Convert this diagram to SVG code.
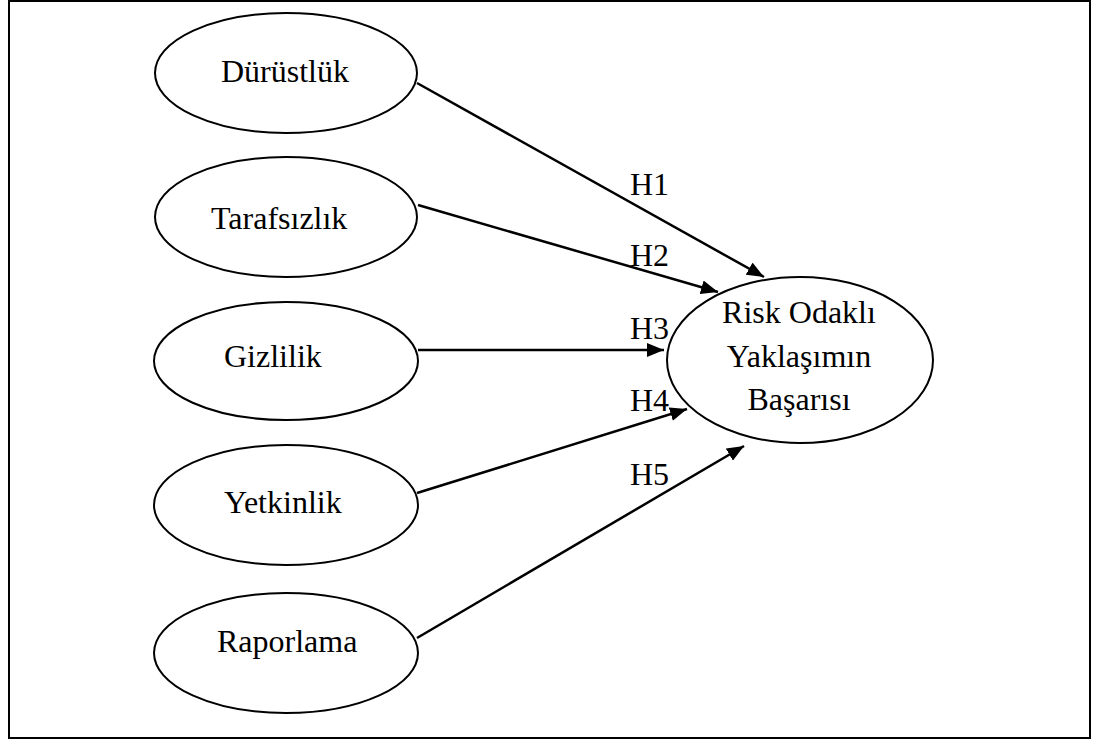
<svg xmlns="http://www.w3.org/2000/svg" width="1101" height="740" viewBox="0 0 1101 740">
<style>
.n{fill:#fff;stroke:#000;stroke-width:2}
.t{font-family:"Liberation Serif","Times New Roman",serif;font-size:32px;fill:#000}
.c{stroke:#000;stroke-width:2.5;fill:none;marker-end:url(#ah)}
</style>
<defs>
<marker id="ah" markerUnits="userSpaceOnUse" markerWidth="18" markerHeight="14" refX="17" refY="7" orient="auto">
<path d="M0,0 L17,7 L0,14 z" fill="#000"/>
</marker>
</defs>
<rect x="0" y="0" width="1101" height="740" fill="#fff"/>
<rect x="9" y="1" width="1081" height="737" fill="none" stroke="#000" stroke-width="2"/>
<g id="connectors">
<line class="c" x1="417" y1="83" x2="764" y2="277"/>
<line class="c" x1="418" y1="205" x2="718" y2="292"/>
<line class="c" x1="418" y1="350" x2="664" y2="350"/>
<line class="c" x1="417" y1="493" x2="687" y2="409"/>
<line class="c" x1="417" y1="638" x2="744" y2="446"/>
<text class="t" x="630" y="195">H1</text>
<text class="t" x="630" y="266">H2</text>
<text class="t" x="630" y="339">H3</text>
<text class="t" x="630" y="411">H4</text>
<text class="t" x="630" y="485">H5</text>
</g>
<g id="durustluk">
<ellipse class="n" cx="286" cy="73" rx="131" ry="60"/>
<text class="t" x="221" y="82">Dürüstlük</text>
</g>
<g id="tarafsizlik">
<ellipse class="n" cx="286" cy="217" rx="131" ry="60"/>
<text class="t" x="211" y="229">Tarafsızlık</text>
</g>
<g id="gizlilik">
<ellipse class="n" cx="286" cy="361" rx="132" ry="59"/>
<text class="t" x="224" y="367">Gizlilik</text>
</g>
<g id="yetkinlik">
<ellipse class="n" cx="286" cy="505" rx="132" ry="60"/>
<text class="t" x="224" y="513">Yetkinlik</text>
</g>
<g id="raporlama">
<ellipse class="n" cx="286" cy="653" rx="132" ry="60"/>
<text class="t" x="217" y="652">Raporlama</text>
</g>
<g id="risk">
<ellipse class="n" cx="800" cy="360" rx="133" ry="83"/>
<text class="t" x="799" y="323" text-anchor="middle">Risk Odaklı</text>
<text class="t" x="799" y="367" text-anchor="middle">Yaklaşımın</text>
<text class="t" x="799" y="410" text-anchor="middle">Başarısı</text>
</g>
</svg>
